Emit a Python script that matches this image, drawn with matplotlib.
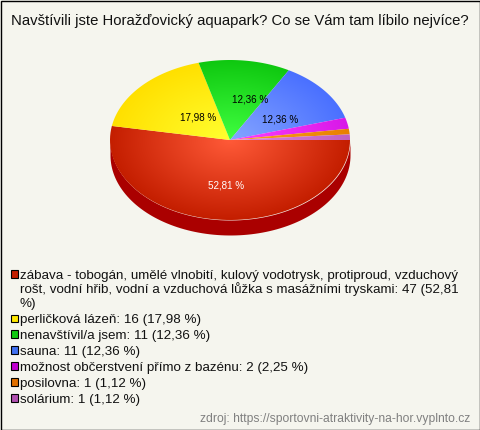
import numpy as np
import matplotlib
matplotlib.use("Agg")
import matplotlib.pyplot as plt
from matplotlib.patches import Rectangle
from matplotlib.colors import LinearSegmentedColormap

plt.rcParams['font.family'] = ['Liberation Sans', 'DejaVu Sans']

TITLE = "Navštívili jste Horažďovický aquapark? Co se Vám tam líbilo nejvíce?"
SOURCE = "zdroj: https://sportovni-atraktivity-na-hor.vyplnto.cz"

answers = ["zábava - tobogán, umělé vlnobití, kulový vodotrysk, protiproud, vzduchový\nrošt, vodní hřib, vodní a vzduchová lůžka s masážními tryskami: 47 (52,81\n%)",
           "perličková lázeň: 16 (17,98 %)",
           "nenavštívil/a jsem: 11 (12,36 %)",
           "sauna: 11 (12,36 %)",
           "možnost občerstvení přímo z bazénu: 2 (2,25 %)",
           "posilovna: 1 (1,12 %)",
           "solárium: 1 (1,12 %)"]
counts = [47, 16, 11, 11, 2, 1, 1]
pct_labels = ["52,81 %", "17,98 %", "12,36 %", "12,36 %", "", "", ""]

outer_colors = ["#c41e00", "#ffe000", "#0fc810", "#4a70ff", "#d818e8", "#e88000", "#c060c0"]
inner_colors = ["#ff5a38", "#ffff30", "#40ff40", "#85a5ff", "#ff40ff", "#ffa020", "#e088e0"]
legend_colors = ["#c41e00", "#ffe800", "#0fc810", "#4070f0", "#c000d0", "#e07000", "#b050b0"]
side_color = "#aa0000"

CX, CY, RX, RY, DEPTH = 230, 140, 120, 80, 15
# where the percent labels sit, in pixels
label_x = [226, 198, 250, 280]
label_y = [185, 118, 100, 120]

fig = plt.figure(figsize=(4.8, 4.3), dpi=100)
ax = fig.add_axes([0, 0, 1, 1])
ax.set_xlim(0, 480)
ax.set_ylim(430, 0)
ax.axis("off")
fig.patch.set_facecolor("#f5f5ee")
ax.add_patch(Rectangle((0.5, 0.5), 479, 429, fill=False, ec="black", lw=1))

ax.text(240, 25, TITLE, ha="center", va="baseline", fontsize=10.75, color="#111111")


def pie_xy(angle, rx=RX, ry=RY):
    return CX + rx * np.cos(angle), CY + ry * np.sin(angle)


# slices run clockwise on screen, starting at the right edge
fracs = np.array(counts) / sum(counts)
edges = np.concatenate([[0], np.cumsum(fracs)]) * 2 * np.pi

# rim below the pie
rim_t = np.linspace(0, np.pi, 100)
rim_x = CX + RX * np.cos(rim_t)
rim_y = CY + RY * np.sin(rim_t)
ax.fill_between(rim_x, rim_y, rim_y + DEPTH, color=side_color, lw=0, zorder=1)

# one radial gradient per slice, clipped to the wedge
yy, xx = np.mgrid[0:1:200j, 0:1:200j]
rad = np.hypot(xx * 2 - 1, yy * 2 - 1).clip(0, 1)
for i in range(len(counts)):
    cmap = LinearSegmentedColormap.from_list("s", [inner_colors[i], outer_colors[i]])
    im = ax.imshow(rad, cmap=cmap, vmin=0, vmax=1, zorder=2, aspect="auto",
                   extent=[CX - RX, CX + RX, CY + RY, CY - RY], interpolation="bilinear")
    t = np.linspace(edges[i], edges[i + 1], 80)
    px, py = pie_xy(t)
    poly = plt.Polygon(np.column_stack([np.r_[CX, px], np.r_[CY, py]]), transform=ax.transData, fc="none", ec="none")
    ax.add_patch(poly)
    im.set_clip_path(poly)
ax.set_xlim(0, 480)
ax.set_ylim(430, 0)

# percent labels, small slices have none
for i in range(len(label_x)):
    ax.text(label_x[i], label_y[i], pct_labels[i], ha="center", va="center", fontsize=7.1,
            color="white" if i == 0 else "black", zorder=5)

# legend, wrapped answers are drawn line by line
y = 274.5
for i in range(len(answers)):
    ax.add_patch(Rectangle((10.5, y - 4.5), 7, 7.5, fc=legend_colors[i], ec="black", lw=0.8, zorder=3))
    for line in answers[i].split("\n"):
        ax.text(20, y + 4, line, ha="left", va="baseline", fontsize=9.6, color="#111111")
        y += 14.3
    y += 1.6

ax.text(470, 422, SOURCE, ha="right", va="baseline", fontsize=8.7, color="#808080")

fig.savefig("out.png", dpi=100, facecolor=fig.get_facecolor())
